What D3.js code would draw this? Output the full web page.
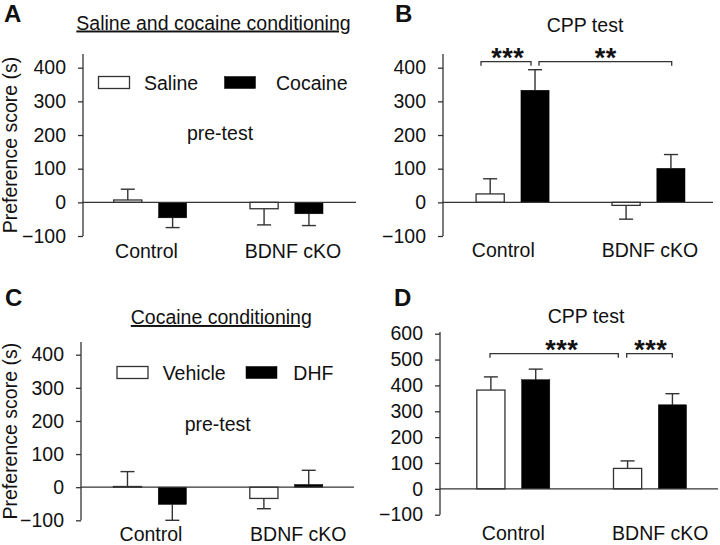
<!DOCTYPE html>
<html>
<head>
<meta charset="utf-8">
<script src="https://cdn.jsdelivr.net/npm/d3@7"></script>
<style>
  html, body { margin: 0; padding: 0; background: #fff; }
  svg { display: block; }
  text { font-family: "Liberation Sans", Arial, sans-serif; fill: #111; }
</style>
</head>
<body>
<svg id="chart" width="720" height="545"></svg>
<script>
// ---------------- data ----------------
const groups = ["Control", "BDNF cKO"];
const ticksAC = [-100, 0, 100, 200, 300, 400];
const ticksB = [-100, 0, 100, 200, 300, 400];
const ticksD = [-100, 0, 100, 200, 300, 400, 500, 600];

// Panel A (pre-test, saline vs cocaine)
const aSaline = [7, -19];
const aSalineErr = [32, 48];
const aCocaine = [-46, -34];
const aCocaineErr = [29, 35];

// Panel B (CPP test, saline vs cocaine)
const bSaline = [25, -9];
const bSalineErr = [45, 41];
const bCocaine = [333, 101];
const bCocaineErr = [61, 41];

// Panel C (pre-test, vehicle vs DHF)
const cVehicle = [2, -34];
const cVehicleErr = [45, 31];
const cDHF = [-52, 8];
const cDHFErr = [48, 43];

// Panel D (CPP test, vehicle vs DHF)
const dVehicle = [382, 79];
const dVehicleErr = [51, 29];
const dDHF = [422, 325];
const dDHFErr = [41, 43];

const legendAB = ["Saline", "Cocaine"];
const legendCD = ["Vehicle", "DHF"];

// ---------------- drawing ----------------
const svg = d3.select("#chart");
const FS = 19.5;
const LINE = "#333";

function panel(cfg) {
  const g = svg.append("g");
  const y = d3.scaleLinear().domain([cfg.ticks[0], cfg.ticks[cfg.ticks.length - 1]])
    .range([cfg.yBottom, cfg.yTop]);
  const x0 = d3.scalePoint().domain(groups).range(cfg.groupRange);
  const x1 = d3.scaleBand().domain([0, 1]).range([-36.5, 36.5]).paddingInner(0.372);
  const xl = d3.scalePoint().domain(groups).range(cfg.labelRange);

  // y axis
  const axis = d3.axisLeft(y).tickValues(cfg.ticks).tickSize(5).tickSizeOuter(0).tickPadding(12);
  const ag = g.append("g").attr("transform", `translate(${cfg.axisX},0)`).call(axis);
  ag.select(".domain").remove();
  ag.selectAll(".tick line").attr("stroke", LINE).attr("stroke-width", 1.3);
  ag.selectAll(".tick text").attr("font-size", FS).attr("fill", "#111")
    .attr("font-family", '"Liberation Sans", Arial, sans-serif');
  g.append("line").attr("x1", cfg.axisX).attr("x2", cfg.axisX)
    .attr("y1", cfg.axisTop).attr("y2", y(cfg.ticks[0]))
    .attr("stroke", LINE).attr("stroke-width", 1.3);

  // bars
  const series = [
    { vals: cfg.s0, errs: cfg.e0, fill: "#fff" },
    { vals: cfg.s1, errs: cfg.e1, fill: "#000" }
  ];
  series.forEach((s, si) => {
    const data = groups.map((gr, i) => ({ gr, v: s.vals[i], e: s.errs[i] }));
    data.forEach(d => {
      const cx = x0(d.gr) + x1(si) + x1.bandwidth() / 2;
      const end = d.v >= 0 ? d.v + d.e : d.v - d.e;
      g.append("line").attr("x1", cx).attr("x2", cx).attr("y1", y(d.v)).attr("y2", y(end))
        .attr("stroke", LINE).attr("stroke-width", 1.4);
      g.append("line").attr("x1", cx - 7).attr("x2", cx + 7).attr("y1", y(end)).attr("y2", y(end))
        .attr("stroke", LINE).attr("stroke-width", 1.4);
    });
    g.selectAll(null).data(data).enter().append("rect")
      .attr("x", d => x0(d.gr) + x1(si))
      .attr("width", x1.bandwidth())
      .attr("y", d => y(Math.max(0, d.v)))
      .attr("height", d => Math.abs(y(d.v) - y(0)))
      .attr("fill", s.fill)
      .attr("stroke", si === 0 ? LINE : "#000")
      .attr("stroke-width", si === 0 ? 1.3 : 0.5);
  });

  // zero line
  g.append("line").attr("x1", cfg.axisX).attr("x2", cfg.zeroEnd)
    .attr("y1", y(0)).attr("y2", y(0)).attr("stroke", LINE).attr("stroke-width", 1.3);

  // category labels
  g.selectAll(null).data(groups).enter().append("text")
    .attr("x", d => xl(d)).attr("y", cfg.labelY)
    .attr("text-anchor", "middle").attr("font-size", FS).text(d => d);

  // panel letter
  g.append("text").attr("x", cfg.letterX).attr("y", cfg.letterY)
    .attr("font-size", 24).attr("font-weight", "bold").attr("fill", "#000").text(cfg.letter);

  // title
  const t = g.append("text").attr("x", cfg.titleX).attr("y", cfg.titleY)
    .attr("text-anchor", "middle").attr("font-size", FS).text(cfg.title);
  if (cfg.underline) t.attr("text-decoration", "underline");

  if (cfg.yLabel) {
    g.append("text").attr("transform", `translate(${cfg.yLabelX},${(cfg.axisTop + y(cfg.ticks[0])) / 2}) rotate(-90)`)
      .attr("text-anchor", "middle").attr("font-size", FS).text("Preference score (s)");
  }

  if (cfg.legend) {
    cfg.legend.forEach((name, i) => {
      const L = cfg.legendPos[i];
      g.append("rect").attr("x", L.bx).attr("y", cfg.legendBoxY).attr("width", 31).attr("height", 12)
        .attr("fill", i === 0 ? "#fff" : "#000").attr("stroke", i === 0 ? LINE : "#000")
        .attr("stroke-width", i === 0 ? 1.3 : 0.5);
      g.append("text").attr("x", L.tx).attr("y", cfg.legendTextY).attr("font-size", FS).text(name);
    });
  }
  if (cfg.note) {
    g.append("text").attr("x", cfg.note.x).attr("y", cfg.note.y).attr("text-anchor", "middle")
      .attr("font-size", FS).text(cfg.note.text);
  }

  if (cfg.brackets) {
    cfg.brackets.forEach(b => {
      const by = b.y;
      g.append("path")
        .attr("d", `M${b.x1},${by + 4}V${by}H${b.x2}V${by + 4}`)
        .attr("fill", "none").attr("stroke", LINE).attr("stroke-width", 1.3);
      g.append("text").attr("x", b.tx).attr("y", by + 5).attr("text-anchor", "middle")
        .attr("font-size", 27).attr("font-weight", "bold").attr("fill", "#000")
        .attr("letter-spacing", 0.5).text(b.stars);
    });
  }
  return { x0, x1, y };
}

panel({
  letter: "A", letterX: 4, letterY: 22,
  title: "Saline and cocaine conditioning", titleX: 213.5, titleY: 29.5, underline: true,
  ticks: ticksAC, yBottom: 236, yTop: 67.7, axisTop: 54, axisX: 83, zeroEnd: 356,
  groupRange: [150.2, 286.5], labelRange: [146.5, 293], labelY: 258,
  s0: aSaline, e0: aSalineErr, s1: aCocaine, e1: aCocaineErr,
  yLabel: true, yLabelX: 16.5,
  legend: legendAB, legendBoxY: 76.5, legendTextY: 90,
  legendPos: [{ bx: 98.5, tx: 144 }, { bx: 224.5, tx: 276 }],
  note: { text: "pre-test", x: 220, y: 139.5 }
});

panel({
  letter: "B", letterX: 395, letterY: 22,
  title: "CPP test", titleX: 585, titleY: 31.5, underline: false,
  ticks: ticksB, yBottom: 236, yTop: 67.7, axisTop: 54, axisX: 443, zeroEnd: 713,
  groupRange: [512.6, 648.5], labelRange: [503.3, 650], labelY: 256.5,
  s0: bSaline, e0: bSalineErr, s1: bCocaine, e1: bCocaineErr,
  brackets: [
    { x1: 481, x2: 531, y: 61.7, tx: 507.7, stars: "***" },
    { x1: 539, x2: 671.7, y: 61.7, tx: 605.7, stars: "**" }
  ]
});

panel({
  letter: "C", letterX: 5, letterY: 306,
  title: "Cocaine conditioning", titleX: 221.3, titleY: 324, underline: true,
  ticks: ticksAC, yBottom: 520.3, yTop: 354.7, axisTop: 342, axisX: 81, zeroEnd: 354,
  groupRange: [149.9, 286.3], labelRange: [151, 298.3], labelY: 541,
  s0: cVehicle, e0: cVehicleErr, s1: cDHF, e1: cDHFErr,
  yLabel: true, yLabelX: 16.5,
  legend: legendCD, legendBoxY: 366.5, legendTextY: 379.5,
  legendPos: [{ bx: 117, tx: 162.7 }, { bx: 246, tx: 293.3 }],
  note: { text: "pre-test", x: 217.7, y: 431.3 }
});

panel({
  letter: "D", letterX: 394, letterY: 306,
  title: "CPP test", titleX: 586, titleY: 322.7, underline: false,
  ticks: ticksD, yBottom: 514.7, yTop: 333.7, axisTop: 332, axisX: 440, zeroEnd: 718,
  groupRange: [513.3, 650], labelRange: [513.3, 660.3], labelY: 540,
  s0: dVehicle, e0: dVehicleErr, s1: dDHF, e1: dDHFErr,
  brackets: [
    { x1: 490, x2: 618.3, y: 353.7, tx: 561.7, stars: "***" },
    { x1: 626.7, x2: 672.3, y: 353.7, tx: 650.7, stars: "***" }
  ]
});
</script>
</body>
</html>
